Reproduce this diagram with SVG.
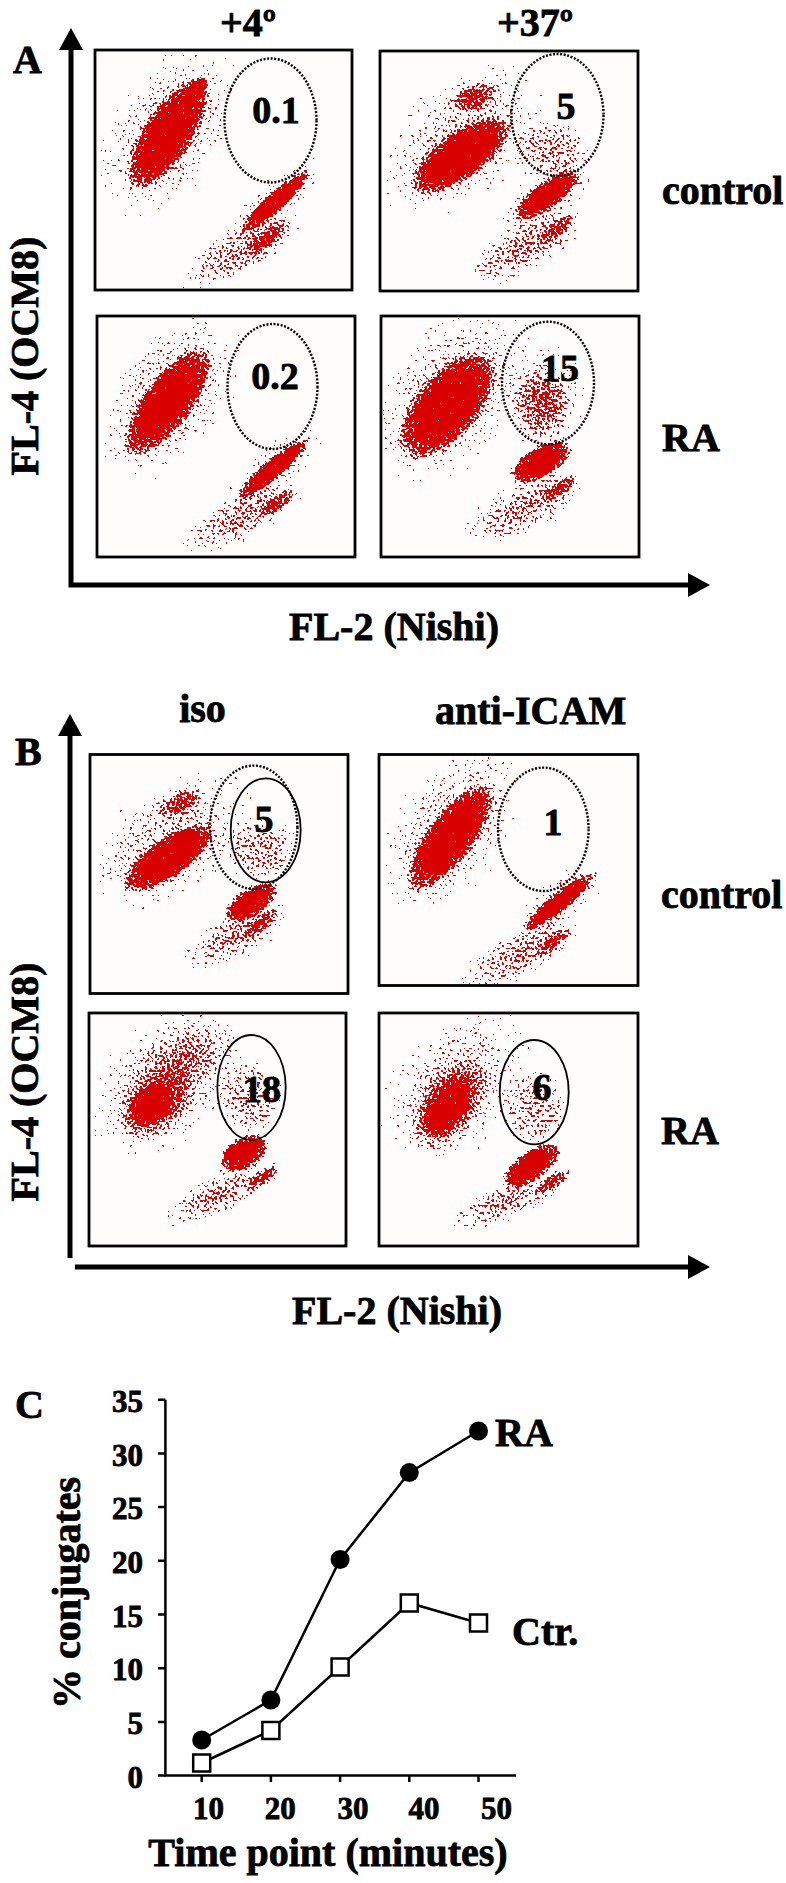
<svg xmlns="http://www.w3.org/2000/svg" width="786" height="1883" viewBox="0 0 786 1883">
<style>
text{font-family:"Liberation Serif","Times New Roman",serif;font-weight:bold;fill:#000;stroke:#000;stroke-width:0.8}
.lbl{font-size:40px}
.num{font-size:38px;text-anchor:middle}
.tick{font-size:31px}
.box{fill:#fffcfc;stroke:#000;stroke-width:2.8}
.gate{fill:none;stroke:#000;stroke-width:2.4;stroke-dasharray:2 1.6}
.sgate{fill:none;stroke:#000;stroke-width:1.8}
.axis{fill:none;stroke:#000;stroke-width:5;marker-start:url(#ah);marker-end:url(#ah)}
.ax1{fill:none;stroke:#000;stroke-width:5;marker-end:url(#ah)}
.cl{fill:none;stroke:#000;stroke-width:2.5}
.sc{filter:url(#speck)}
</style>
<defs>
<marker id="ah" viewBox="0 0 22 24" refX="0" refY="12" markerWidth="22" markerHeight="24" markerUnits="userSpaceOnUse" orient="auto-start-reverse"><path d="M0,0 L22,12 L0,24 z" fill="#000"/></marker>
<radialGradient id="gCore"><stop offset="0" stop-opacity="1"/><stop offset="0.5" stop-opacity="1"/><stop offset="0.8" stop-opacity="0.6"/><stop offset="1" stop-opacity="0"/></radialGradient>
<radialGradient id="gMid"><stop offset="0" stop-opacity="0.7"/><stop offset="0.55" stop-opacity="0.5"/><stop offset="1" stop-opacity="0"/></radialGradient>
<radialGradient id="gHalo"><stop offset="0" stop-opacity="0.4"/><stop offset="0.4" stop-opacity="0.27"/><stop offset="1" stop-opacity="0"/></radialGradient>
<radialGradient id="gTail"><stop offset="0" stop-opacity="0.5"/><stop offset="0.5" stop-opacity="0.32"/><stop offset="1" stop-opacity="0"/></radialGradient>
<radialGradient id="gGate"><stop offset="0" stop-opacity="0.42"/><stop offset="0.6" stop-opacity="0.3"/><stop offset="1" stop-opacity="0"/></radialGradient>
<filter id="speck" x="-5%" y="-5%" width="110%" height="110%" color-interpolation-filters="sRGB">
<feTurbulence type="fractalNoise" baseFrequency="0.4" numOctaves="1" seed="7" result="n0"/>
<feColorMatrix in="n0" type="matrix" values="0 0 0 0 0  0 0 0 0 0  0 0 0 0 0  2 0 0 0 -0.5" result="n"/>
<feComposite in="SourceGraphic" in2="n" operator="arithmetic" k1="0" k2="1" k3="-1" k4="0.49" result="c"/>
<feComponentTransfer in="c" result="m"><feFuncA type="discrete" tableValues="0 1"/></feComponentTransfer>
<feFlood flood-color="#d80000"/>
<feComposite in2="m" operator="in"/>
</filter>
<clipPath id="cA1"><rect x="97" y="52" width="254" height="236"/></clipPath>
<clipPath id="cA2"><rect x="382" y="53" width="254" height="236"/></clipPath>
<clipPath id="cA3"><rect x="99" y="318" width="254" height="237"/></clipPath>
<clipPath id="cA4"><rect x="383" y="318" width="254" height="237"/></clipPath>
<clipPath id="cB1"><rect x="92" y="756" width="254" height="236"/></clipPath>
<clipPath id="cB2"><rect x="381" y="756" width="255" height="228"/></clipPath>
<clipPath id="cB3"><rect x="91" y="1015" width="253" height="229"/></clipPath>
<clipPath id="cB4"><rect x="381" y="1015" width="255" height="229"/></clipPath>
</defs>
<rect width="786" height="1883" fill="#fff"/>

<g id="axes">
<path class="axis" d="M71,50 V585 H688"/>
<path class="ax1" d="M70,1258 V736"/>
<path class="ax1" d="M75,1267 H688"/>
</g>

<g id="panelA-labels">
<text class="lbl" x="13" y="73">A</text>
<text class="lbl" x="248" y="36" text-anchor="middle">+4º</text>
<text class="lbl" x="535" y="36" text-anchor="middle">+37º</text>
<text class="lbl" x="662" y="204">control</text>
<text class="lbl" x="662" y="451">RA</text>
<text class="lbl" transform="translate(38 356) rotate(-90)" text-anchor="middle">FL-4 (OCM8)</text>
<text class="lbl" x="394" y="640" text-anchor="middle">FL-2 (Nishi)</text>
</g>

<g id="A1">
<rect class="box" x="95" y="50" width="257" height="240"/>
<g clip-path="url(#cA1)"><g class="sc">
<ellipse transform="translate(168 130) rotate(-57)" rx="100" ry="60" fill="url(#gHalo)"/>
<ellipse transform="translate(168 134) rotate(-57)" rx="68" ry="26" fill="url(#gCore)"/>
<ellipse transform="translate(196 90) rotate(-50)" rx="16" ry="9" fill="url(#gCore)"/>
<ellipse transform="translate(275 202) rotate(-42)" rx="62" ry="24" fill="url(#gHalo)"/>
<ellipse transform="translate(275 202) rotate(-42)" rx="48" ry="10" fill="url(#gCore)"/>
<ellipse transform="translate(268 238) rotate(-38)" rx="30" ry="10" fill="url(#gMid)"/>
<ellipse transform="translate(240 252) rotate(-28)" rx="70" ry="26" fill="url(#gTail)"/>
</g></g>
<ellipse class="gate" cx="270.5" cy="120.5" rx="46" ry="62"/>
<text class="num" x="276" y="123">0.1</text>
</g>

<g id="A2">
<rect class="box" x="380" y="51" width="258" height="240"/>
<g clip-path="url(#cA2)"><g class="sc">
<ellipse transform="translate(462 140) rotate(-38)" rx="100" ry="62" fill="url(#gHalo)"/>
<ellipse transform="translate(460 156) rotate(-35)" rx="62" ry="25" fill="url(#gCore)"/>
<ellipse transform="translate(474 97) rotate(-20)" rx="28" ry="15" fill="url(#gMid)"/>
<ellipse transform="translate(550 150)" rx="40" ry="32" fill="url(#gGate)"/>
<ellipse transform="translate(547 198) rotate(-36)" rx="60" ry="28" fill="url(#gHalo)"/>
<ellipse transform="translate(547 195) rotate(-36)" rx="42" ry="14" fill="url(#gCore)"/>
<ellipse transform="translate(558 228) rotate(-38)" rx="26" ry="9" fill="url(#gMid)"/>
<ellipse transform="translate(524 248) rotate(-28)" rx="70" ry="27" fill="url(#gTail)"/>
</g></g>
<ellipse class="gate" cx="557.5" cy="115" rx="46" ry="61"/>
<text class="num" x="566" y="119">5</text>
</g>

<g id="A3">
<rect class="box" x="97" y="316" width="258" height="241"/>
<g clip-path="url(#cA3)"><g class="sc">
<ellipse transform="translate(170 396) rotate(-55)" rx="100" ry="58" fill="url(#gHalo)"/>
<ellipse transform="translate(168 402) rotate(-53)" rx="68" ry="26" fill="url(#gCore)"/>
<ellipse transform="translate(273 469) rotate(-40)" rx="62" ry="24" fill="url(#gHalo)"/>
<ellipse transform="translate(273 469) rotate(-40)" rx="48" ry="10" fill="url(#gCore)"/>
<ellipse transform="translate(278 502) rotate(-35)" rx="26" ry="9" fill="url(#gMid)"/>
<ellipse transform="translate(240 518) rotate(-27)" rx="70" ry="25" fill="url(#gTail)"/>
</g></g>
<ellipse class="gate" cx="272.5" cy="386.5" rx="45" ry="62.5"/>
<text class="num" x="275" y="389">0.2</text>
</g>

<g id="A4">
<rect class="box" x="381" y="316" width="258" height="241"/>
<g clip-path="url(#cA4)"><g class="sc">
<ellipse transform="translate(452 395) rotate(-50)" rx="105" ry="68" fill="url(#gHalo)"/>
<ellipse transform="translate(447 406) rotate(-50)" rx="68" ry="34" fill="url(#gCore)"/>
<ellipse transform="translate(545 395)" rx="44" ry="58" fill="url(#gHalo)"/>
<ellipse transform="translate(542 405)" rx="30" ry="38" fill="url(#gGate)"/>
<ellipse transform="translate(541 462) rotate(-30)" rx="36" ry="17" fill="url(#gCore)"/>
<ellipse transform="translate(560 488) rotate(-35)" rx="24" ry="9" fill="url(#gMid)"/>
<ellipse transform="translate(524 508) rotate(-28)" rx="70" ry="28" fill="url(#gTail)"/>
</g></g>
<ellipse class="gate" cx="548" cy="383" rx="46" ry="61.3"/>
<text class="num" x="560" y="381">15</text>
</g>

<g id="panelB-labels">
<text class="lbl" x="15" y="765">B</text>
<text class="lbl" x="202.5" y="721.5" text-anchor="middle">iso</text>
<text class="lbl" x="530.6" y="724" text-anchor="middle">anti-ICAM</text>
<text class="lbl" x="661" y="908">control</text>
<text class="lbl" x="661" y="1144">RA</text>
<text class="lbl" transform="translate(38 1082) rotate(-90)" text-anchor="middle">FL-4 (OCM8)</text>
<text class="lbl" x="397" y="1324" text-anchor="middle">FL-2 (Nishi)</text>
</g>

<g id="B1">
<rect class="box" x="90" y="754.5" width="258" height="239"/>
<g clip-path="url(#cB1)"><g class="sc">
<ellipse transform="translate(172 840) rotate(-35)" rx="95" ry="58" fill="url(#gHalo)"/>
<ellipse transform="translate(168 858) rotate(-35)" rx="56" ry="21" fill="url(#gCore)"/>
<ellipse transform="translate(180 803) rotate(-25)" rx="26" ry="13" fill="url(#gMid)"/>
<ellipse transform="translate(262 850)" rx="38" ry="34" fill="url(#gGate)"/>
<ellipse transform="translate(251 902) rotate(-32)" rx="32" ry="15" fill="url(#gCore)"/>
<ellipse transform="translate(262 922) rotate(-40)" rx="24" ry="9" fill="url(#gMid)"/>
<ellipse transform="translate(236 936) rotate(-28)" rx="64" ry="24" fill="url(#gTail)"/>
</g></g>
<ellipse class="gate" cx="253.7" cy="827.3" rx="43.7" ry="61.7"/>
<ellipse class="sgate" cx="265.7" cy="830.3" rx="35" ry="52"/>
<text class="num" x="264" y="832">5</text>
</g>

<g id="B2">
<rect class="box" x="379" y="754.5" width="259" height="231"/>
<g clip-path="url(#cB2)"><g class="sc">
<ellipse transform="translate(452 828) rotate(-55)" rx="100" ry="58" fill="url(#gHalo)"/>
<ellipse transform="translate(450 838) rotate(-53)" rx="68" ry="25" fill="url(#gCore)"/>
<ellipse transform="translate(559 902) rotate(-39)" rx="62" ry="24" fill="url(#gHalo)"/>
<ellipse transform="translate(559 902) rotate(-39)" rx="47" ry="10" fill="url(#gCore)"/>
<ellipse transform="translate(553 942) rotate(-38)" rx="24" ry="9" fill="url(#gMid)"/>
<ellipse transform="translate(519 955) rotate(-27)" rx="68" ry="25" fill="url(#gTail)"/>
</g></g>
<ellipse class="gate" cx="543.3" cy="829.3" rx="45.3" ry="61.7"/>
<text class="num" x="553" y="835">1</text>
</g>

<g id="B3">
<rect class="box" x="89" y="1013" width="257" height="233"/>
<g clip-path="url(#cB3)"><g class="sc">
<ellipse transform="translate(165 1083) rotate(-40)" rx="92" ry="62" fill="url(#gHalo)"/>
<ellipse transform="translate(185 1058) rotate(-30)" rx="62" ry="34" fill="url(#gHalo)"/>
<ellipse transform="translate(155 1104) rotate(-40)" rx="48" ry="32" fill="url(#gMid)"/>
<ellipse transform="translate(151 1105) rotate(-40)" rx="26" ry="18" fill="url(#gCore)"/>
<ellipse transform="translate(251 1098)" rx="34" ry="40" fill="url(#gGate)"/>
<ellipse transform="translate(244 1153) rotate(-30)" rx="28" ry="17" fill="url(#gCore)"/>
<ellipse transform="translate(264 1177) rotate(-35)" rx="24" ry="9" fill="url(#gMid)"/>
<ellipse transform="translate(217 1195) rotate(-25)" rx="66" ry="22" fill="url(#gTail)"/>
</g></g>
<ellipse class="sgate" cx="251.5" cy="1087.5" rx="34.2" ry="52.5"/>
<text class="num" x="262" y="1102">18</text>
</g>

<g id="B4">
<rect class="box" x="379" y="1013" width="259" height="233"/>
<g clip-path="url(#cB4)"><g class="sc">
<ellipse transform="translate(455 1088) rotate(-50)" rx="95" ry="62" fill="url(#gHalo)"/>
<ellipse transform="translate(449 1105) rotate(-55)" rx="54" ry="32" fill="url(#gMid)"/>
<ellipse transform="translate(447 1108) rotate(-55)" rx="34" ry="19" fill="url(#gCore)"/>
<ellipse transform="translate(535 1108)" rx="34" ry="38" fill="url(#gGate)"/>
<ellipse transform="translate(532 1165) rotate(-35)" rx="36" ry="16" fill="url(#gCore)"/>
<ellipse transform="translate(553 1182) rotate(-35)" rx="25" ry="9" fill="url(#gMid)"/>
<ellipse transform="translate(505 1202) rotate(-22)" rx="66" ry="20" fill="url(#gTail)"/>
</g></g>
<ellipse class="sgate" cx="534.2" cy="1092.2" rx="34.5" ry="52.2"/>
<text class="num" x="542" y="1100">6</text>
</g>

<g id="chartC">
<text class="lbl" x="15" y="1418">C</text>
<path class="cl" d="M165.4,1399.8 V1775.6 H516"/>
<path class="cl" d="M158,1775.6 H165.4 M158,1721.9 H165.4 M158,1668.2 H165.4 M158,1614.5 H165.4 M158,1560.8 H165.4 M158,1507.1 H165.4 M158,1453.5 H165.4 M158,1399.8 H165.4"/>
<path class="cl" d="M201.7,1775.6 V1782 M270.9,1775.6 V1782 M340.1,1775.6 V1782 M409.3,1775.6 V1782 M478.5,1775.6 V1782"/>
<g text-anchor="end">
<text class="tick" x="143" y="1788">0</text>
<text class="tick" x="143" y="1734">5</text>
<text class="tick" x="143" y="1680">10</text>
<text class="tick" x="143" y="1627">15</text>
<text class="tick" x="143" y="1573">20</text>
<text class="tick" x="143" y="1519">25</text>
<text class="tick" x="143" y="1466">30</text>
<text class="tick" x="143" y="1412">35</text>
</g>
<g text-anchor="middle">
<text class="tick" x="208.6" y="1819">10</text>
<text class="tick" x="280.3" y="1819">20</text>
<text class="tick" x="353" y="1819">30</text>
<text class="tick" x="424" y="1819">40</text>
<text class="tick" x="496.5" y="1819">50</text>
</g>
<text class="lbl" transform="translate(80 1593) rotate(-90)" text-anchor="middle">% conjugates</text>
<text class="lbl" x="328" y="1866" text-anchor="middle">Time point (minutes)</text>
<polyline class="cl" points="201.7,1740 270.9,1700 340.1,1559.5 409.3,1472.6 478.5,1431"/>
<polyline class="cl" points="201.7,1763 270.9,1730.5 340.1,1667 409.3,1603 478.5,1623"/>
<g fill="#000">
<circle cx="201.7" cy="1740" r="9.5"/>
<circle cx="270.9" cy="1700" r="9.5"/>
<circle cx="340.1" cy="1559.5" r="9.5"/>
<circle cx="409.3" cy="1472.6" r="9.5"/>
<circle cx="478.5" cy="1431" r="9.5"/>
</g>
<g fill="#fff" stroke="#000" stroke-width="2.5">
<rect x="193.2" y="1754.5" width="17" height="17"/>
<rect x="262.4" y="1722" width="17" height="17"/>
<rect x="331.6" y="1658.5" width="17" height="17"/>
<rect x="400.8" y="1594.5" width="17" height="17"/>
<rect x="470" y="1614.5" width="17" height="17"/>
</g>
<text class="lbl" x="495" y="1446">RA</text>
<text class="lbl" x="512" y="1644.5">Ctr.</text>
</g>
</svg>
